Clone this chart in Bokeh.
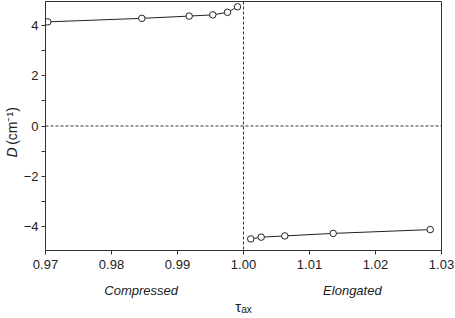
from bokeh.plotting import figure
from bokeh.models import Span, FixedTicker, Range1d, LinearAxis
from bokeh.embed import file_html
from bokeh.resources import INLINE

# Data
tau_compressed = [0.97035, 0.98459, 0.99177, 0.99535, 0.99758, 0.99909]
D_compressed = [4.14, 4.28, 4.37, 4.42, 4.52, 4.74]
tau_elongated = [1.0011, 1.00268, 1.00626, 1.01359, 1.02829]
D_elongated = [-4.49, -4.42, -4.37, -4.27, -4.12]

x_ticks = [0.97, 0.98, 0.99, 1.00, 1.01, 1.02, 1.03]
y_ticks = [-4, -2, 0, 2, 4]
y_minor = [-3, -1, 1, 3]
region_pos = [0.9845, 1.0165]
region_names = ["Compressed", "Elongated"]
y_title_symbol_pos = [-1.05]
y_title_symbol = ["D"]
y_title_unit = "(cm\u207b\u00b9)"

FONT = "Liberation Sans"
INK = "#222222"

p = figure(width=455, height=318, output_backend="svg", toolbar_location=None,
           title=None,
           x_range=Range1d(0.97, 1.03), y_range=Range1d(-4.95, 4.95),
           min_border_left=45, min_border_right=14, min_border_top=1, min_border_bottom=68)
p.background_fill_color = "white"
p.border_fill_color = "white"
p.outline_line_color = "#333333"
p.outline_line_width = 1
p.grid.visible = False

p.xaxis.ticker = FixedTicker(ticks=x_ticks)
p.xaxis.major_label_overrides = {t: f"{t:.2f}" for t in x_ticks}
p.yaxis.ticker = FixedTicker(ticks=y_ticks, minor_ticks=y_minor)
p.yaxis.major_label_overrides = {t: (str(t) if t >= 0 else "\u2212" + str(-t)) for t in y_ticks}

for ax in (p.xaxis, p.yaxis):
    ax.axis_line_color = "#333333"
    ax.major_tick_line_color = "#333333"
    ax.minor_tick_line_color = "#333333"
    ax.major_tick_in = 0
    ax.major_tick_out = 4
    ax.minor_tick_in = 0
    ax.minor_tick_out = 4
    ax.major_label_text_font = FONT
    ax.major_label_text_font_size = "13px"
    ax.major_label_text_color = INK
    ax.major_label_standoff = 5
p.xaxis.minor_tick_line_color = None
p.yaxis.major_label_standoff = 3

# second axis below: region names + tau_ax label
region_axis = LinearAxis(ticker=FixedTicker(ticks=region_pos),
                         major_label_overrides=dict(zip(region_pos, region_names)))
region_axis.axis_line_color = None
region_axis.major_tick_line_color = None
region_axis.minor_tick_line_color = None
region_axis.major_tick_in = 0
region_axis.major_tick_out = 0
region_axis.major_label_standoff = 11
region_axis.major_label_text_font = FONT
region_axis.major_label_text_font_style = "italic"
region_axis.major_label_text_font_size = "13px"
region_axis.major_label_text_color = INK
region_axis.axis_label = "\u03c4\u2090\u2093"
region_axis.axis_label_standoff = -3
region_axis.axis_label_text_font = FONT
region_axis.axis_label_text_font_style = "normal"
region_axis.axis_label_text_font_size = "15px"
region_axis.axis_label_text_color = INK
p.add_layout(region_axis, "below")

# second axis on the left: italic "D" as a rotated label, unit as its axis title
title_axis = LinearAxis(ticker=FixedTicker(ticks=y_title_symbol_pos),
                        major_label_overrides=dict(zip(y_title_symbol_pos, y_title_symbol)))
title_axis.axis_line_color = None
title_axis.major_tick_line_color = None
title_axis.minor_tick_line_color = None
title_axis.major_tick_in = 0
title_axis.major_tick_out = 0
title_axis.major_label_standoff = 0
title_axis.major_label_orientation = "vertical"
title_axis.major_label_text_font = FONT
title_axis.major_label_text_font_style = "italic"
title_axis.major_label_text_font_size = "14px"
title_axis.major_label_text_color = INK
title_axis.axis_label = y_title_unit
title_axis.axis_label_standoff = -18
title_axis.axis_label_text_font = FONT
title_axis.axis_label_text_font_style = "normal"
title_axis.axis_label_text_font_size = "14px"
title_axis.axis_label_text_color = INK
p.add_layout(title_axis, "left")

p.add_layout(Span(location=1.0, dimension="height", line_color="#333333",
                  line_dash="3 2", line_width=1))
p.add_layout(Span(location=0.0, dimension="width", line_color="#333333",
                  line_dash="3 2", line_width=1))

for xs, ys in ((tau_compressed, D_compressed), (tau_elongated, D_elongated)):
    p.line(xs, ys, line_color=INK, line_width=1)
    p.scatter(xs, ys, marker="circle", size=6.5, fill_color="white",
              line_color=INK, line_width=1)

open("out.html", "w").write(file_html(p, INLINE))
